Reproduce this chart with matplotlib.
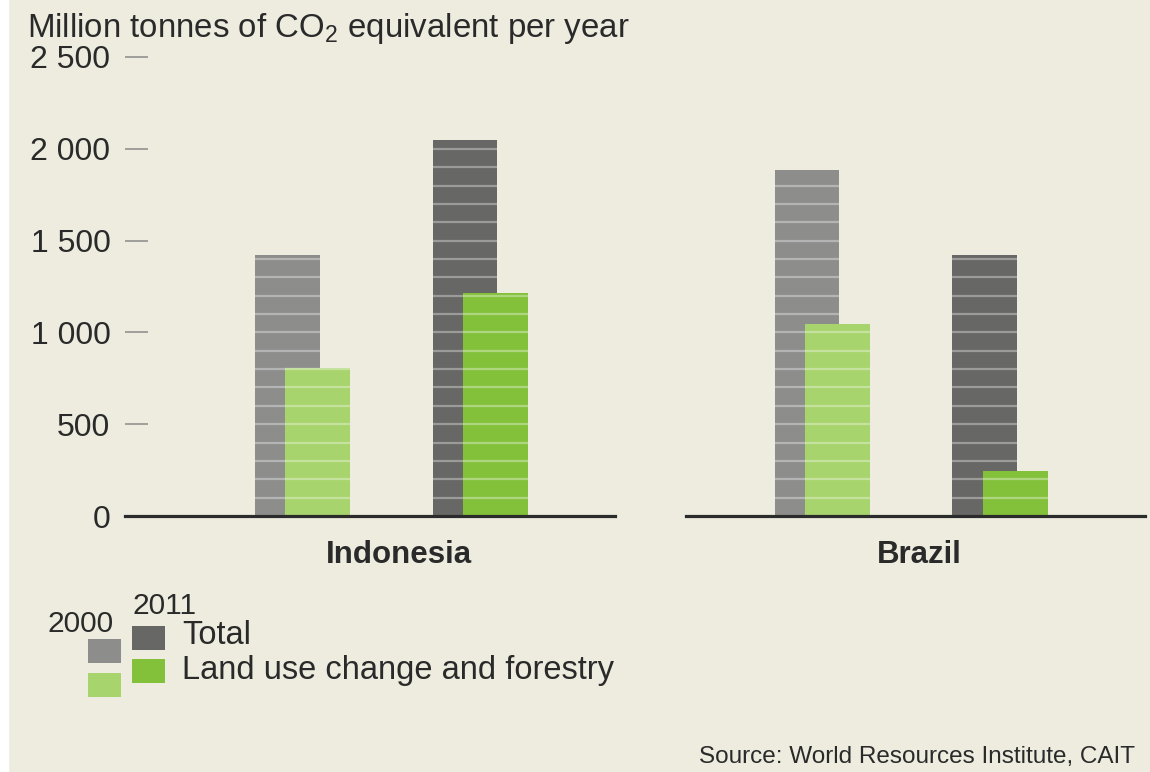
import numpy as np
import matplotlib
matplotlib.use('Agg')
import matplotlib.pyplot as plt
from matplotlib.patches import Rectangle

plt.rcParams['font.family'] = ['Liberation Sans', 'DejaVu Sans']
plt.rcParams['mathtext.fontset'] = 'custom'
plt.rcParams['mathtext.rm'] = 'Liberation Sans'

# Data (million tonnes CO2e per year)
countries = ['Indonesia', 'Brazil']
years = ['2000', '2011']
total_2000 = [1420, 1885]
total_2011 = [2050, 1420]
lucf_2000 = [805, 1045]
lucf_2011 = [1215, 245]

yticks = [0, 500, 1000, 1500, 2000, 2500]
ytick_labels = ['0', '500', '1 000', '1 500', '2 000', '2 500']

# Colours
BG = '#edecdf'
C_TOT = ['#8d8d8c', '#676765']      # 2000, 2011
C_LUC = ['#a7d46c', '#84c13a']
TXT = '#2a2a2a'

W, H = 1150, 772
fig = plt.figure(figsize=(11.5, 7.72), dpi=100, facecolor=BG)


def fx(x):
    return x / W


def fy(y):
    return 1 - y / H


# white strip on the left edge
fig.add_artist(Rectangle((0, 0), fx(8), 1, transform=fig.transFigure,
                         color='white', zorder=0))

bw = 0.365      # bar width
off = 0.17      # shift of the land-use bar
# axes pixel extents and x-limits per country panel
panels = [(125, 615, -0.915, 1.845), (686, 1145, -0.68, 1.90)]


def striped_bar(ax, x, h, color, z):
    ax.bar(x, h, width=bw, color=color, zorder=z, linewidth=0)
    levels = np.arange(100, h, 100)
    ax.hlines(levels, x - bw / 2, x + bw / 2, colors='white', alpha=0.35,
              lw=1.6, zorder=z + 0.5)


for i, country in enumerate(countries):
    left, right, x0, x1 = panels[i]
    ax = fig.add_axes([fx(left), fy(516), (right - left) / W, (516 - 57) / H])
    ax.set_facecolor('none')
    ax.set_xlim(x0, x1)
    ax.set_ylim(0, 2500)

    tots = [total_2000[i], total_2011[i]]
    lucs = [lucf_2000[i], lucf_2011[i]]
    for j in range(len(years)):
        striped_bar(ax, j, tots[j], C_TOT[j], 2)
        striped_bar(ax, j + off, lucs[j], C_LUC[j], 4)

    for s in ['top', 'right', 'left']:
        ax.spines[s].set_visible(False)
    ax.spines['bottom'].set_linewidth(2.3)
    ax.spines['bottom'].set_color('#2b2b2b')
    ax.spines['bottom'].set_zorder(10)

    ax.set_xticks([0.63])
    ax.set_xticklabels([country], fontweight='bold', fontsize=22.5, color=TXT)
    ax.tick_params(axis='x', length=0, pad=17)

    if i == 0:
        ax.set_yticks(yticks)
        ax.set_yticklabels(ytick_labels)
        ax.tick_params(axis='y', direction='in', length=16.5, width=1.1,
                       color='#8a8a8a', pad=10.5, labelsize=23, labelcolor=TXT)
    else:
        ax.set_yticks([])

# Title
fig.text(fx(27), fy(37), r'Million tonnes of CO$_\mathregular{2}$ equivalent per year',
         fontsize=23.8, color=TXT, ha='left', va='baseline')

# Legend
legend_boxes = [
    (88, 639, C_TOT[0]), (88, 673, C_LUC[0]),
    (132, 626, C_TOT[1]), (132, 659, C_LUC[1]),
]
for x, y, c in legend_boxes:
    fig.add_artist(Rectangle((fx(x), fy(y + 24)), 33 / W, 24 / H,
                             transform=fig.transFigure, color=c, lw=0))
fig.text(fx(114), fy(624), years[0], fontsize=21.5, color=TXT, ha='right', va='center')
fig.text(fx(132), fy(606), years[1], fontsize=21.5, color=TXT, ha='left', va='center')
fig.text(fx(182), fy(635), 'Total', fontsize=23.5, color=TXT, ha='left', va='center')
fig.text(fx(182), fy(671), 'Land use change and forestry', fontsize=23.5, color=TXT,
         ha='left', va='center')

# Source
fig.text(fx(1135), fy(757), 'Source: World Resources Institute, CAIT', fontsize=17.5,
         color=TXT, ha='right', va='center')

fig.savefig('out.png', dpi=100, facecolor=BG)
